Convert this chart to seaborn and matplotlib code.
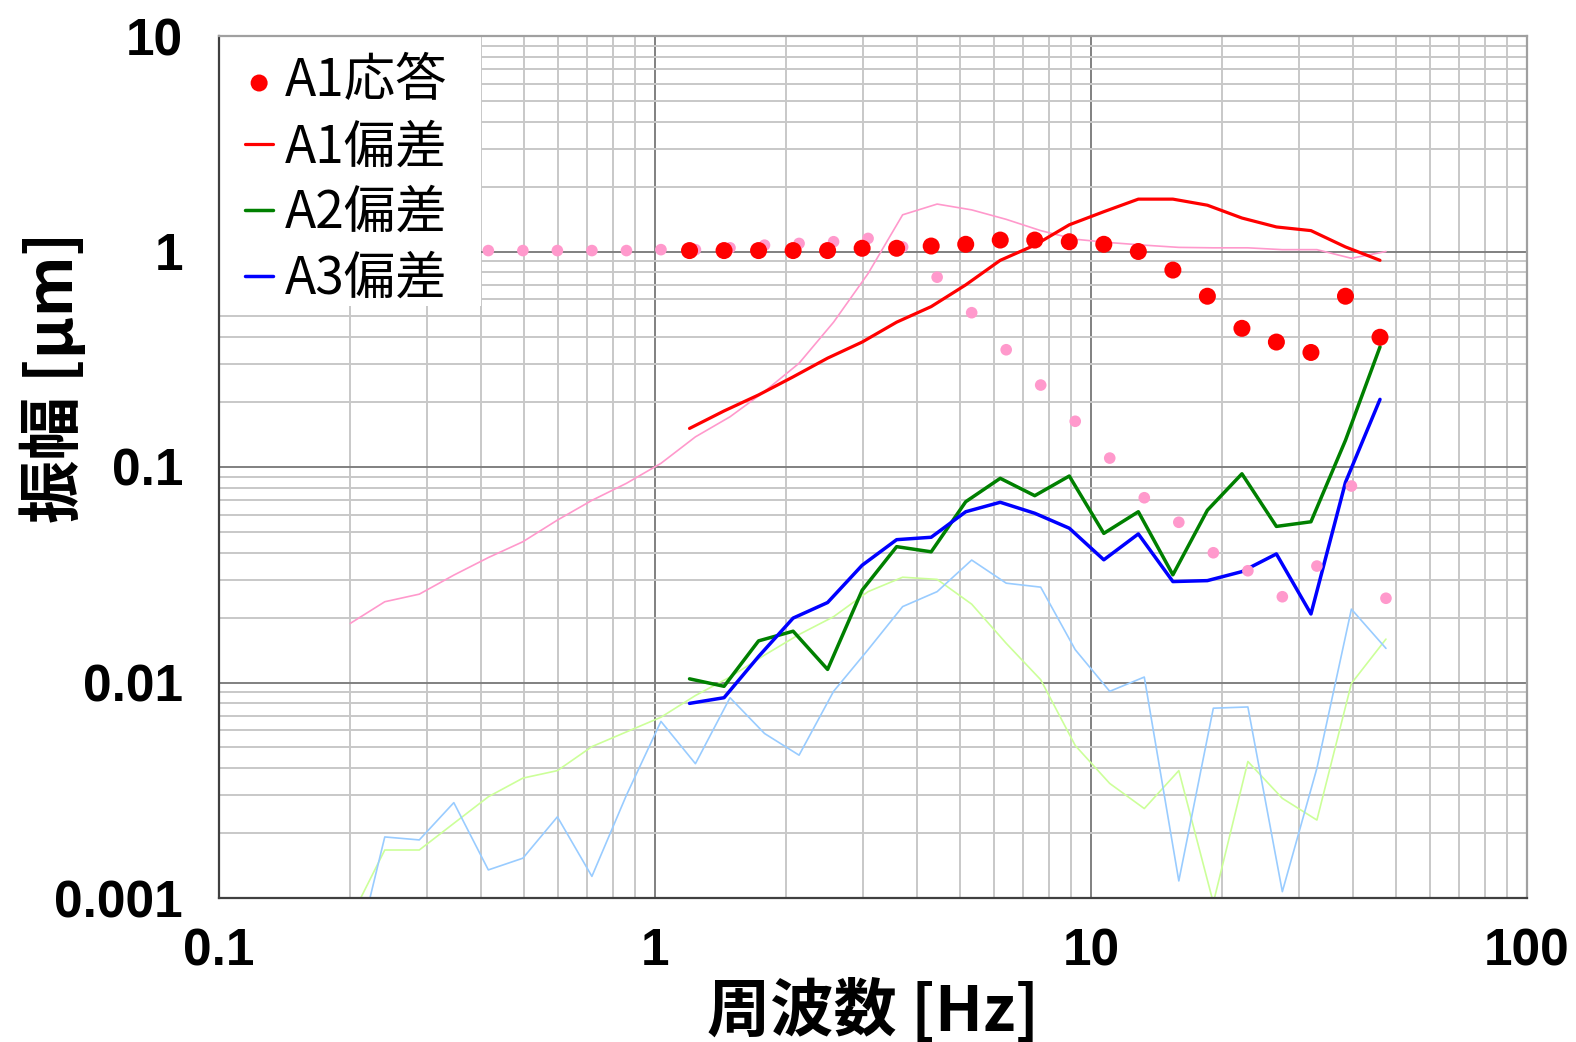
import numpy as np
import pandas as pd
import matplotlib
matplotlib.use("Agg")
import matplotlib.pyplot as plt
import seaborn as sns
from matplotlib.ticker import LogLocator, NullFormatter
from matplotlib.font_manager import FontProperties
from matplotlib.patches import Rectangle

# ---------------- data ----------------
# frequency grid of the light (reference) series [Hz]
freq_a = [0.2, 0.24, 0.288, 0.3456, 0.4147, 0.4977, 0.5972, 0.7166, 0.86, 1.032,
          1.238, 1.486, 1.783, 2.14, 2.568, 3.081, 3.698, 4.437, 5.325, 6.39,
          7.667, 9.201, 11.04, 13.25, 15.9, 19.08, 22.9, 27.47, 32.97, 39.56, 47.48]
# frequency grid of the main series [Hz]
freq_b = [1.2, 1.44, 1.728, 2.074, 2.488, 2.986, 3.583, 4.3, 5.16, 6.192,
          7.43, 8.916, 10.7, 12.84, 15.41, 18.49, 22.19, 26.62, 31.95, 38.34, 46.01]

a1_resp = [1.01, 1.01, 1.01, 1.01, 1.01, 1.035, 1.035, 1.06, 1.08, 1.13,
           1.13, 1.11, 1.08, 1.0, 0.82, 0.62, 0.44, 0.38, 0.34, 0.62, 0.40]
a1_dev = [0.151, 0.182, 0.216, 0.262, 0.32, 0.38, 0.47, 0.555, 0.70, 0.91,
          1.07, 1.33, 1.53, 1.75, 1.75, 1.64, 1.43, 1.30, 1.25, 1.05, 0.91]
a2_dev = [0.0104, 0.0096, 0.0156, 0.0173, 0.0115, 0.0268, 0.0427, 0.0404, 0.069, 0.0886,
          0.0736, 0.0908, 0.0492, 0.062, 0.0316, 0.063, 0.093, 0.053, 0.0557, 0.133, 0.361]
a3_dev = [0.0080, 0.0085, 0.0132, 0.0199, 0.0235, 0.035, 0.046, 0.0472, 0.062, 0.0686,
          0.061, 0.052, 0.0371, 0.0489, 0.0294, 0.0297, 0.0327, 0.0395, 0.0208, 0.0849, 0.206]

# reference (light) series
ref_resp_freq = freq_a[4:]
ref_resp = [1.01, 1.01, 1.01, 1.01, 1.01, 1.02, 1.02, 1.04, 1.07, 1.09,
            1.11, 1.15, 1.05, 0.76, 0.52, 0.35, 0.24, 0.163, 0.11, 0.072,
            0.0554, 0.040, 0.033, 0.025, 0.0347, 0.0816, 0.0246]
ref_a1_dev = [0.0188, 0.0237, 0.0257, 0.0315, 0.038, 0.045, 0.0567, 0.070, 0.084, 0.104,
              0.138, 0.171, 0.224, 0.303, 0.47, 0.79, 1.48, 1.66, 1.56, 1.41,
              1.25, 1.14, 1.10, 1.07, 1.045, 1.04, 1.04, 1.02, 1.02, 0.93, 1.0]
ref_a2_dev = [0.0008, 0.00167, 0.00167, 0.00222, 0.00295, 0.0036, 0.0039, 0.00504, 0.0059, 0.0069,
              0.0087, 0.0106, 0.0134, 0.0167, 0.0202, 0.0264, 0.0308, 0.0301, 0.0231, 0.0152,
              0.0103, 0.0051, 0.0034, 0.0026, 0.0039, 0.00095, 0.0043, 0.0029, 0.0023, 0.0099, 0.0159]
ref_a3_dev = [0.00042, 0.00192, 0.00186, 0.00277, 0.00135, 0.00153, 0.00238, 0.00126, 0.0030, 0.0066,
              0.0042, 0.0085, 0.0058, 0.0046, 0.0091, 0.0142, 0.0225, 0.0264, 0.037, 0.0289,
              0.0277, 0.0142, 0.0091, 0.0106, 0.0012, 0.0076, 0.0077, 0.00107, 0.0040, 0.0219, 0.0144]

labels = ["A1応答", "A1偏差", "A2偏差", "A3偏差"]
x_ticks = [0.1, 1, 10, 100]
x_ticklabels = ["0.1", "1", "10", "100"]
y_ticks = [0.001, 0.01, 0.1, 1, 10]
y_ticklabels = ["0.001", "0.01", "0.1", "1", "10"]

# ---------------- style ----------------
sns.set_style("white")
plt.rcParams['font.family'] = ['Liberation Sans', 'Noto Sans CJK JP', 'DejaVu Sans']

W, H = 1576, 1042
fig = plt.figure(figsize=(W / 100, H / 100), dpi=100)
L, R, T, B = 219, 1527, 36, 898
ax = fig.add_axes([L / W, 1 - B / H, (R - L) / W, (B - T) / H])
ax.set_xscale('log')
ax.set_yscale('log')

df_a = pd.DataFrame({"f": freq_a, "p": ref_a1_dev, "g": ref_a2_dev, "b": ref_a3_dev})
df_b = pd.DataFrame({"f": freq_b, "r": a1_resp, "a1": a1_dev, "a2": a2_dev, "a3": a3_dev})
df_r = pd.DataFrame({"f": ref_resp_freq, "v": ref_resp})

kw = dict(ax=ax, sort=False, estimator=None)
sns.lineplot(data=df_a, x="f", y="g", color="#ccff99", lw=1.2, zorder=2, **kw)
sns.lineplot(data=df_a, x="f", y="b", color="#99ccff", lw=1.2, zorder=2, **kw)
sns.lineplot(data=df_a, x="f", y="p", color="#ff99cc", lw=1.2, zorder=2.2, **kw)
sns.lineplot(data=df_b, x="f", y="a1", color="#ff0000", lw=2.3, zorder=3, label=labels[1], **kw)
sns.lineplot(data=df_b, x="f", y="a2", color="#008000", lw=2.5, zorder=3, label=labels[2], **kw)
sns.lineplot(data=df_b, x="f", y="a3", color="#0000ff", lw=2.5, zorder=3.1, label=labels[3], **kw)
sns.scatterplot(data=df_r, x="f", y="v", color="#ff99cc", s=70, edgecolor="none",
                zorder=4, ax=ax)
sns.scatterplot(data=df_b, x="f", y="r", color="#ff0000", s=150, edgecolor="none",
                zorder=5, ax=ax, label=labels[0])

ax.set_xlim(0.1, 100)
ax.set_ylim(0.001, 10)

ax.set_xticks(x_ticks, labels=x_ticklabels)
ax.set_yticks(y_ticks, labels=y_ticklabels)
ax.xaxis.set_minor_locator(LogLocator(base=10, subs=np.arange(2, 10)))
ax.yaxis.set_minor_locator(LogLocator(base=10, subs=np.arange(2, 10)))
ax.xaxis.set_minor_formatter(NullFormatter())
ax.yaxis.set_minor_formatter(NullFormatter())

ax.set_axisbelow(True)
ax.grid(which='major', color='#808080', lw=1.4)
ax.grid(which='minor', color='#c8c8c8', lw=1.4)

tick_font = FontProperties(family=['Liberation Sans', 'DejaVu Sans'], weight='bold', size=37)
for lab in ax.get_xticklabels() + ax.get_yticklabels():
    lab.set_fontproperties(tick_font)
ax.tick_params(axis='both', which='both', direction='in', colors='#303030',
               labelcolor='black', top=False, right=False)
ax.tick_params(axis='both', which='major', length=11, width=1.2)
ax.tick_params(axis='both', which='minor', length=6, width=1.0)
ax.tick_params(axis='x', which='major', pad=21)
ax.tick_params(axis='y', which='major', pad=26)

for side in ['left', 'bottom']:
    ax.spines[side].set_color('#404040')
    ax.spines[side].set_linewidth(1.6)
for side in ['top', 'right']:
    ax.spines[side].set_color('#a0a0a0')
    ax.spines[side].set_linewidth(1.6)
for sp in ax.spines.values():
    sp.set_zorder(20)

label_font = FontProperties(family=['Noto Sans CJK JP', 'DejaVu Sans'], weight='bold', size=45.5)
ax.set_xlabel("周波数 [Hz]", fontproperties=label_font, color='black')
ax.set_ylabel("振幅 [μm]", fontproperties=label_font, color='black')
ax.xaxis.set_label_coords(0.5, -0.094)
ax.yaxis.set_label_coords(-0.1015, 0.604)

# white legend background (covers the grid in the upper-left corner)
ax.add_patch(Rectangle((0, (B - 306) / (B - T)), (481 - L) / (R - L), 1 - (B - 306) / (B - T),
                       transform=ax.transAxes, facecolor='white', edgecolor='none',
                       zorder=1.5))

handles, labs = ax.get_legend_handles_labels()
hmap = dict(zip(labs, handles))
leg = ax.legend([hmap[l] for l in labels], labels, loc='upper left',
                bbox_to_anchor=((245 - L) / (R - L), (B - 55) / (B - T)),
                borderaxespad=0, borderpad=0, frameon=False,
                prop=FontProperties(family=['Noto Sans CJK JP', 'DejaVu Sans'], size=37),
                handlelength=0.55, handletextpad=0.22, labelspacing=0.24,
                scatterpoints=1)
for t in leg.get_texts():
    t.set_color('black')
leg.set_zorder(10)

fig.savefig("out.png", dpi=100)
